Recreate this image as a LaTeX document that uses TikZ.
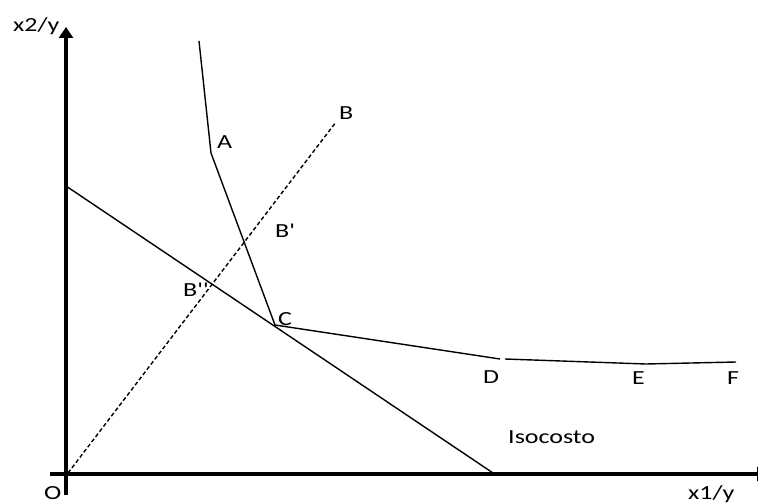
\documentclass[tikz,border=0pt]{standalone}
\usepackage{fontspec}
\newfontfamily\labfont[FakeStretch=1.3]{Carlito}
\usetikzlibrary{arrows.meta}
\begin{document}
\begin{tikzpicture}[x=1pt,y=-1pt,
  lab/.style={font=\labfont\fontsize{20}{22}\selectfont, inner sep=0pt, anchor=base west},
  axis/.style={line width=3.5pt},
  curve/.style={line width=1.4pt},
  dashline/.style={line width=1.4pt, dash pattern=on 4pt off 2.5pt}]
\useasboundingbox (0,0) rectangle (758,503);
% axes
\coordinate (ybot) at (66,495);
\coordinate (ytop) at (66,27);
\coordinate (xleft) at (50,474);
\coordinate (xright) at (768,474);
\draw[axis, -{Triangle[length=11pt,width=14pt]}] (ybot) -- (ytop);
\draw[axis, -{Triangle[length=11pt,width=14pt]}] (xleft) -- (xright);
% isoquant
\coordinate (top) at (199,41);
\coordinate (pA) at (211,153);
\coordinate (pC) at (275,325);
\coordinate (pD) at (500,359);
\coordinate (pD2) at (505,359);
\coordinate (pE) at (646,364);
\coordinate (pF) at (736,362);
\draw[curve] (top) -- (pA) -- (pC) -- (pD);
\draw[curve] (pD2) -- (pE) -- (pF);
% ray
\coordinate (orig) at (68,473);
\coordinate (pB) at (336,122);
\draw[dashline] (orig) -- (pB);
% isocost
\coordinate (c1) at (66,186);
\coordinate (c2) at (496,475);
\draw[curve] (c1) -- (c2);
% labels
\node[lab] (lx2) at (13,32) {x2/y};
\node[lab] (lO) at (44,499) {O};
\node[lab] (lx1) at (688,499) {x1/y};
\node[lab] (lA) at (217,148) {A};
\node[lab] (lB) at (339,119) {B};
\node[lab] (lB1) at (275,237) {B'};
\node[lab] (lB2) at (183,296) {B''};
\node[lab] (lC) at (278,325) {C};
\node[lab] (lD) at (483,383) {D};
\node[lab] (lE) at (632,384) {E};
\node[lab] (lF) at (727,384) {F};
\node[lab] (liso) at (508,443) {Isocosto};
\end{tikzpicture}
\end{document}
